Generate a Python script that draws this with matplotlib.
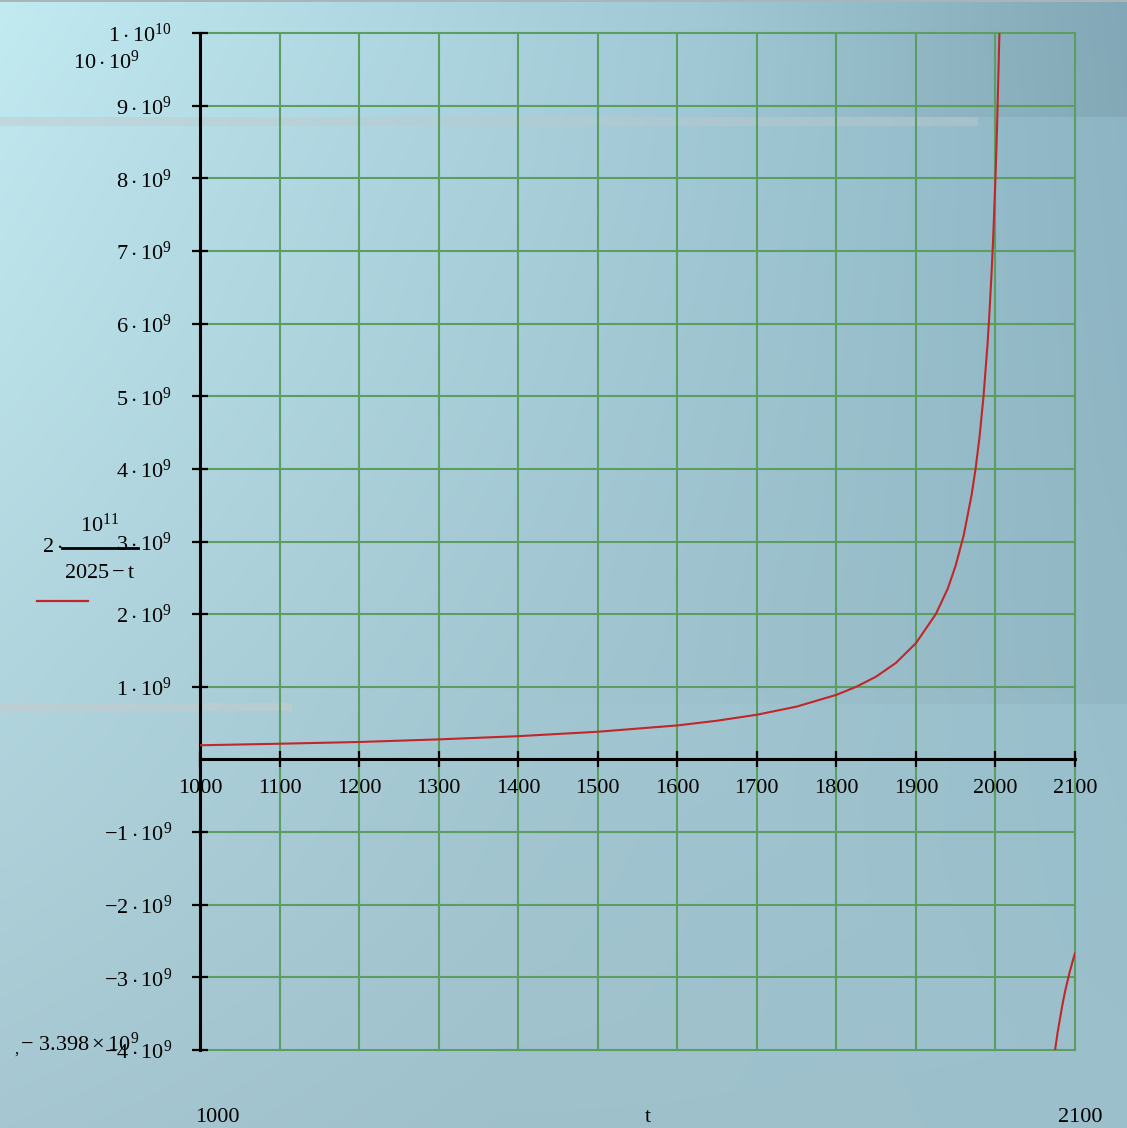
import matplotlib
matplotlib.use('Agg')
import matplotlib.pyplot as plt
import numpy as np

# значения кривой (t, y в единицах 1e9)
t_left = [1000, 1100, 1200, 1300, 1400, 1500, 1600, 1650, 1700, 1750, 1800, 1825, 1850,
          1875, 1900, 1925, 1940, 1950, 1960, 1970, 1975, 1980, 1985, 1990, 1992,
          1995, 1997, 2000, 2002, 2005, 2008]
y_left = [0.195, 0.216, 0.240, 0.276, 0.320, 0.381, 0.468, 0.533, 0.615, 0.727, 0.889, 1.0, 1.14,
          1.33, 1.60, 2.00, 2.35, 2.67, 3.08, 3.64, 4.0, 4.44, 5.0, 5.71, 6.06,
          6.67, 7.14, 8.0, 8.7, 10.0, 11.8]
t_right = [2074, 2076, 2078, 2080, 2083, 2085, 2088, 2090, 2093, 2095, 2098, 2100]
y_right = [-4.08, -3.92, -3.77, -3.64, -3.45, -3.33, -3.17, -3.08, -2.94, -2.86, -2.74, -2.67]

x_ticks = [1000, 1100, 1200, 1300, 1400, 1500, 1600, 1700, 1800, 1900, 2000, 2100]
y_ticks = [-4, -3, -2, -1, 1, 2, 3, 4, 5, 6, 7, 8, 9]

W, H = 1127, 1128
plt.rcParams['font.family'] = ['Liberation Serif', 'DejaVu Serif']
plt.rcParams['mathtext.fontset'] = 'custom'
plt.rcParams['mathtext.rm'] = 'Liberation Serif'
plt.rcParams['mathtext.it'] = 'Liberation Serif'

def px(x, y):
    return x / W, 1 - y / H

fig = plt.figure(figsize=(W / 100, H / 100), dpi=100)

# фон с градиентом
bg = fig.add_axes([0, 0, 1, 1], zorder=-10)
gx = np.linspace(0, 1, W)[None, :, None]
gy = np.linspace(0, 1, H)[:, None, None]
tl = np.array([194, 234, 241]) / 255
tr = np.array([140, 180, 196]) / 255
bl = np.array([166, 199, 209]) / 255
br = np.array([150, 185, 196]) / 255
img = (tl * (1 - gx) * (1 - gy) + tr * gx * (1 - gy) + bl * (1 - gx) * gy + br * gx * gy)
img = np.ascontiguousarray(img)
yy, xx = np.mgrid[0:H, 0:W]
top = yy < 117
k = np.clip((xx - 700) / (W - 700), 0, 1) * 0.07
img[top] = img[top] * (1 - k[top, None])
low = yy > 703
k2 = np.clip((xx - 500) / (W - 500), 0, 1) * 0.04
img[low] = np.clip(img[low] * (1 + k2[low, None]), 0, 1)
img[117:126, 0:978] = img[117:126, 0:978] * 0.55 + np.array([190, 200, 202]) / 255 * 0.45
img[703:711, 0:292] = img[703:711, 0:292] * 0.45 + np.array([195, 203, 204]) / 255 * 0.55
img[0:2, :] = np.array([170, 180, 185]) / 255
bg.imshow(img, aspect='auto', extent=[0, 1, 0, 1])
bg.axis('off')

l, b = px(200, 1050)
r, t = px(1075, 33)
ax = fig.add_axes([l, b, r - l, t - b])
ax.set_facecolor('none')

green = '#5c9e62'
red = '#c0262a'

ax.plot(t_left, [v * 1e9 for v in y_left], color=red, lw=1.5, zorder=4)
ax.plot(t_right, [v * 1e9 for v in y_right], color=red, lw=1.5, zorder=4)

ax.set_xlim(1000, 2100)
ax.set_ylim(-4e9, 1e10)

for xv in x_ticks:
    ax.axvline(xv, color=green, lw=1.5, zorder=1, clip_on=False)
for yv in range(-4, 11):
    ax.axhline(yv * 1e9, color=green, lw=1.5, zorder=1, clip_on=False)

for s in ['top', 'right']:
    ax.spines[s].set_visible(False)
ax.spines['bottom'].set_position(('data', 0))
ax.spines['bottom'].set_color('black')
ax.spines['bottom'].set_linewidth(2.2)
ax.spines['bottom'].set_zorder(2)
ax.spines['left'].set_color('black')
ax.spines['left'].set_linewidth(2.2)

ax.set_xticks(x_ticks)
ax.set_xticklabels([str(v) for v in x_ticks], fontsize=16)
ax.tick_params(axis='x', direction='inout', length=12, width=1.6, pad=8)

ax.set_yticks([v * 1e9 for v in y_ticks] + [1e10])
ylabels = [r'$%s\cdot10^{9}$' % (('-%d' % -v) if v < 0 else str(v)) for v in y_ticks] + ['']
ax.set_yticklabels(ylabels, fontsize=16)
ax.tick_params(axis='y', direction='inout', length=12, width=1.6, pad=14)

# подписи Mathcad
fig.text(*px(172, 35), r'$1\cdot10^{10}$', fontsize=16, ha='right', va='center')
fig.text(*px(140, 62), r'$10\cdot10^{9}$', fontsize=16, ha='right', va='center')
fig.text(*px(14, 1050), ',', fontsize=12, ha='left', va='center')
fig.text(*px(20, 1044), r'$-\ 3.398\times10^{9}$', fontsize=16, ha='left', va='center')

fig.text(*px(217, 1118), '1000', fontsize=16, ha='center', va='center')
fig.text(*px(648, 1118), 't', fontsize=16, ha='center', va='center')
fig.text(*px(1080, 1118), '2100', fontsize=16, ha='center', va='center')

# легенда слева
fig.text(*px(52, 548), r'$2\cdot$', fontsize=16, ha='center', va='center')
fig.text(*px(100, 525), r'$10^{11}$', fontsize=16, ha='center', va='center')
fig.text(*px(100, 574), r'$2025-\mathrm{t}$', fontsize=16, ha='center', va='center')
fig.add_artist(plt.Line2D([62 / W, 138 / W], [1 - 548 / H] * 2, color='black', lw=2))
fig.add_artist(plt.Line2D([37 / W, 88 / W], [1 - 601 / H] * 2, color=red, lw=1.6))

fig.savefig('out.png', dpi=100)
